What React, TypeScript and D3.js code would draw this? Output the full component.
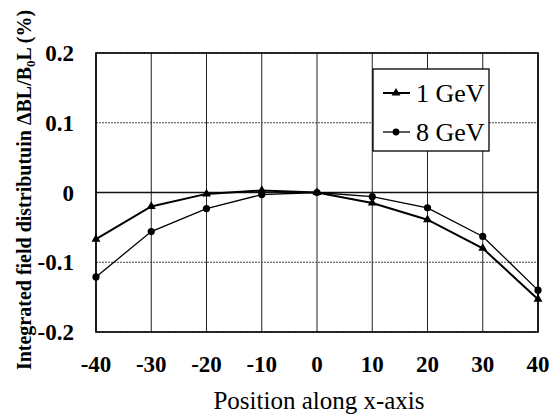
import React from "react";
import * as d3 from "d3";

const positions = [-40, -30, -20, -10, 0, 10, 20, 30, 40];
const gev1 = [-0.067, -0.02, -0.002, 0.003, 0, -0.015, -0.039, -0.08, -0.153];
const gev8 = [-0.121, -0.056, -0.023, -0.003, 0, -0.006, -0.022, -0.063, -0.14];
const xTicks = [-40, -30, -20, -10, 0, 10, 20, 30, 40];
const yTicks = [0.2, 0.1, 0, -0.1, -0.2];
const yTickLabels = ["0.2", "0.1", "0", "-0.1", "-0.2"];

const W = 559, H = 416;
const L = 96, R = 538, T = 53, B = 332;

export default function App() {
  const x = d3.scaleLinear().domain([-40, 40]).range([L, R]);
  const y = d3.scaleLinear().domain([-0.2, 0.2]).range([B, T]);
  const line = d3.line<number>().x((_, i) => x(positions[i])).y((d) => y(d));
  const serif = "Liberation Serif, Times New Roman, DejaVu Serif, serif";
  const ts = { fontFamily: serif };
  const tri = d3.symbol(d3.symbolTriangle, 34)();
  return (
    <svg width={W} height={H} style={{ position: "absolute", left: 0, top: 0, background: "#fff", fontFamily: serif }}>
      <rect x={0} y={0} width={W} height={H} fill="#fff" />
      {xTicks.map((t) => (
        <line key={"gx" + t} x1={x(t)} x2={x(t)} y1={T} y2={B} stroke="#222" strokeWidth={1} />
      ))}
      {yTicks.map((t) => (
        <line key={"gy" + t} x1={L} x2={R} y1={y(t)} y2={y(t)} stroke="#444" strokeWidth={1} strokeDasharray="2,1" />
      ))}
      <line x1={L} x2={R} y1={y(0)} y2={y(0)} stroke="#111" strokeWidth={1.3} />
      <rect x={L} y={T} width={R - L} height={B - T} fill="none" stroke="#000" strokeWidth={1.6} />
      <path d={line(gev1) || ""} fill="none" stroke="#000" strokeWidth={2} />
      <path d={line(gev8) || ""} fill="none" stroke="#000" strokeWidth={1.3} />
      {gev1.map((v, i) => (
        <path key={"t" + i} d={tri || ""} transform={`translate(${x(positions[i])},${y(v)})`} fill="#000" />
      ))}
      {gev8.map((v, i) => (
        <circle key={"c" + i} cx={x(positions[i])} cy={y(v)} r={3.6} fill="#000" />
      ))}
      {xTicks.map((t) => (
        <text key={"xl" + t} style={ts} x={x(t)} y={372} textAnchor="middle" fontSize={23} fontWeight="bold">{t}</text>
      ))}
      {yTicks.map((t, i) => (
        <text key={"yl" + t} style={ts} x={74} y={y(t) + 8} textAnchor="end" fontSize={23} fontWeight="bold">{yTickLabels[i]}</text>
      ))}
      <text style={ts} x={319} y={409} textAnchor="middle" fontSize={25}>Position along x-axis</text>
      <text style={ts} transform={`translate(31,190) rotate(-90)`} textAnchor="middle" fontSize={20} fontWeight="bold">
        Integrated field distributuin ΔBL/B<tspan fontSize={13} dy={4}>0</tspan><tspan dy={-4}>L (%)</tspan>
      </text>
      <rect x={373} y={69} width={116} height={82} fill="#fff" stroke="#000" strokeWidth={1.3} />
      <line x1={383} x2={410} y1={93} y2={93} stroke="#000" strokeWidth={2} />
      <path d={tri || ""} transform="translate(396,93)" fill="#000" />
      <text style={ts} x={416} y={102} fontSize={26}>1 GeV</text>
      <line x1={383} x2={410} y1={132} y2={132} stroke="#000" strokeWidth={1.3} />
      <circle cx={396} cy={132} r={3.4} fill="#000" />
      <text style={ts} x={416} y={141} fontSize={26}>8 GeV</text>
    </svg>
  );
}
